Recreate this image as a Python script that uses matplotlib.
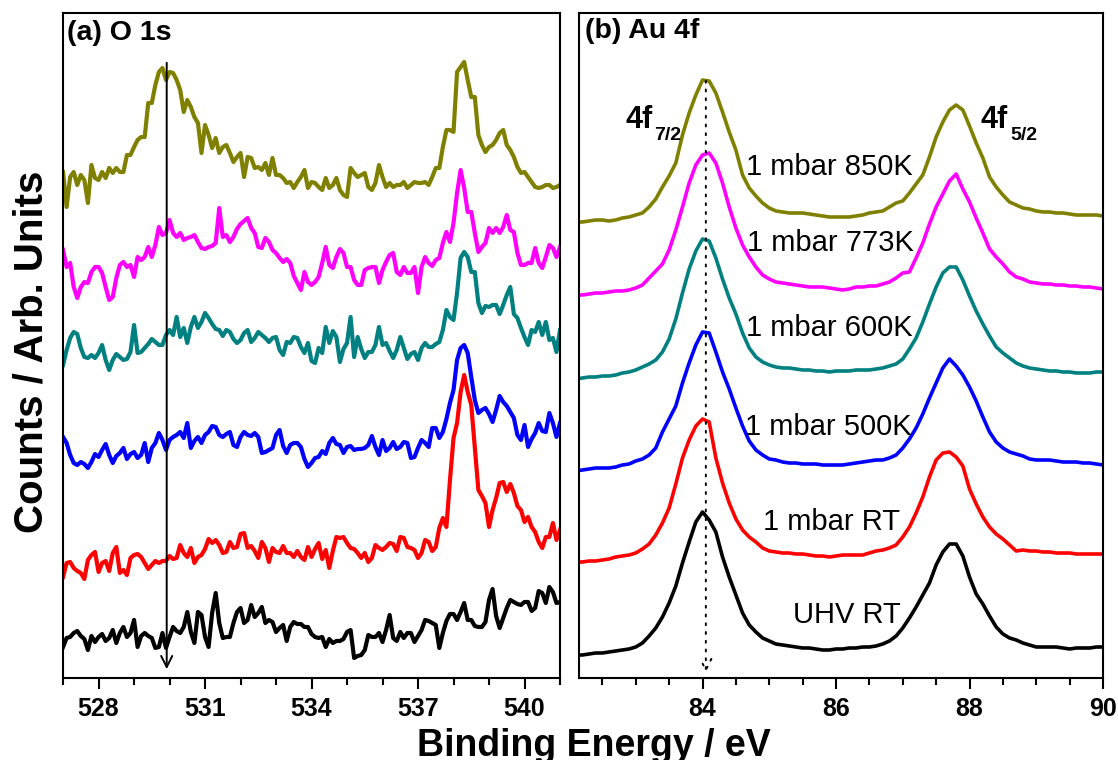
import numpy as np
import matplotlib.pyplot as plt
from matplotlib.ticker import MultipleLocator

plt.rcParams['font.family'] = ['Liberation Sans', 'DejaVu Sans']

# ---- O 1s region, 527-541 eV, 0.1 eV step (counts, arb. units) ----
o1s_energy = np.arange(5270, 5411) / 10.0

o1s_850K = [56, 21, 51, 56, 43, 53, 48, 25, 63, 50, 48, 56, 50, 60, 55, 60, 56, 56, 73, 73,
            81, 88, 91, 91, 125, 125, 143, 156, 160, 148, 156, 155, 148, 138, 116, 128, 121, 111, 105, 75,
            103, 93, 80, 90, 75, 81, 83, 75, 66, 71, 75, 51, 71, 70, 60, 61, 58, 65, 53, 70,
            53, 53, 50, 45, 46, 40, 46, 51, 58, 40, 46, 45, 41, 38, 50, 40, 43, 50, 38, 33,
            31, 60, 55, 51, 53, 55, 41, 38, 45, 63, 51, 41, 45, 41, 43, 43, 46, 40, 43, 46,
            45, 45, 46, 43, 51, 60, 60, 81, 98, 98, 96, 156, 161, 166, 148, 131, 131, 93, 83, 76,
            81, 83, 88, 95, 98, 83, 78, 71, 61, 55, 56, 51, 46, 41, 40, 41, 43, 43, 40, 41, 43]
o1s_773K = [78, 61, 65, 41, 30, 41, 46, 45, 56, 61, 61, 55, 41, 28, 31, 50, 63, 66, 61, 63,
            51, 71, 68, 71, 81, 71, 83, 101, 93, 95, 108, 95, 91, 95, 88, 90, 91, 93, 86, 80,
            79, 81, 82, 85, 120, 91, 93, 86, 91, 99, 104, 107, 110, 100, 95, 81, 80, 90, 86, 78,
            75, 70, 66, 69, 65, 52, 45, 38, 56, 46, 43, 46, 51, 65, 81, 63, 60, 71, 79, 75,
            61, 61, 48, 43, 43, 58, 60, 61, 61, 45, 58, 66, 73, 75, 56, 53, 61, 55, 55, 61,
            35, 61, 71, 65, 62, 68, 70, 85, 96, 86, 105, 135, 158, 140, 116, 116, 95, 76, 81, 85,
            100, 95, 100, 95, 101, 113, 98, 96, 75, 63, 63, 65, 65, 80, 65, 60, 71, 83, 80, 71, 81]
o1s_600K = [63, 78, 90, 96, 94, 80, 71, 70, 73, 70, 75, 83, 68, 58, 68, 74, 71, 68, 69, 76,
            103, 75, 76, 80, 84, 89, 86, 83, 83, 93, 98, 93, 111, 91, 100, 85, 101, 111, 100, 106,
            115, 110, 104, 99, 98, 92, 98, 96, 89, 85, 88, 95, 98, 86, 90, 96, 93, 90, 86, 90,
            91, 78, 73, 86, 85, 91, 90, 81, 75, 85, 67, 65, 80, 75, 101, 85, 97, 91, 66, 79,
            85, 111, 71, 91, 79, 70, 76, 76, 83, 101, 83, 85, 77, 70, 78, 91, 80, 69, 74, 76,
            68, 80, 85, 81, 81, 84, 86, 98, 118, 111, 108, 135, 170, 176, 171, 156, 156, 125, 115, 122,
            121, 123, 123, 114, 123, 133, 141, 114, 110, 100, 91, 83, 98, 96, 106, 93, 106, 88, 90, 76, 98]
o1s_500K = [91, 85, 73, 65, 63, 66, 64, 60, 66, 74, 71, 78, 84, 73, 65, 72, 75, 80, 69, 74,
            76, 70, 73, 85, 66, 80, 85, 95, 88, 78, 88, 91, 93, 96, 90, 105, 80, 87, 91, 85,
            93, 96, 102, 101, 93, 91, 94, 96, 83, 81, 91, 96, 93, 92, 95, 91, 75, 76, 78, 80,
            93, 98, 82, 75, 83, 85, 85, 81, 69, 61, 65, 70, 71, 77, 74, 85, 90, 84, 83, 75,
            81, 82, 78, 79, 79, 80, 83, 92, 81, 73, 88, 77, 80, 86, 79, 81, 86, 85, 70, 71,
            80, 88, 85, 81, 100, 100, 90, 96, 109, 125, 138, 168, 180, 183, 175, 151, 128, 115, 118, 120,
            114, 106, 118, 132, 126, 122, 116, 110, 93, 88, 103, 81, 89, 95, 105, 97, 96, 115, 105, 91, 105]
o1s_RT = [41, 55, 56, 50, 47, 45, 39, 58, 63, 66, 46, 55, 57, 47, 65, 71, 45, 48, 43, 60,
          63, 64, 61, 55, 49, 53, 57, 55, 57, 57, 62, 59, 60, 73, 65, 61, 70, 55, 61, 63,
          69, 79, 75, 78, 73, 65, 66, 76, 70, 71, 84, 85, 70, 72, 67, 60, 76, 70, 56, 70,
          66, 65, 72, 65, 65, 61, 67, 61, 58, 71, 61, 69, 75, 59, 68, 50, 67, 81, 80, 81,
          75, 70, 69, 65, 60, 65, 56, 60, 73, 70, 68, 71, 75, 74, 67, 81, 80, 71, 70, 68,
          60, 65, 78, 76, 67, 71, 90, 100, 91, 138, 180, 195, 226, 243, 226, 213, 170, 128, 122, 115,
          91, 108, 120, 135, 136, 126, 134, 125, 112, 108, 96, 101, 91, 86, 76, 70, 81, 81, 95, 78, 88]
o1s_UHV = [31, 40, 41, 45, 47, 42, 39, 28, 42, 36, 41, 44, 37, 40, 48, 35, 45, 51, 41, 45,
           58, 31, 42, 45, 42, 40, 30, 31, 45, 30, 41, 51, 47, 45, 51, 66, 46, 35, 66, 63,
           41, 31, 65, 85, 55, 40, 41, 41, 55, 66, 70, 55, 58, 73, 61, 65, 71, 55, 58, 56,
           46, 50, 53, 37, 51, 56, 54, 54, 51, 51, 44, 41, 40, 41, 31, 39, 35, 37, 37, 39,
           46, 48, 20, 22, 23, 28, 43, 41, 41, 45, 36, 48, 63, 40, 37, 46, 40, 45, 45, 36,
           42, 48, 58, 57, 55, 53, 30, 45, 57, 64, 64, 58, 66, 75, 58, 58, 52, 51, 51, 56,
           78, 89, 62, 50, 60, 70, 78, 76, 74, 73, 76, 76, 67, 70, 87, 85, 75, 91, 86, 75, 76]

# ---- Au 4f region, 82.1-90 eV, 0.1 eV step ----
au4f_energy = np.arange(821, 901) / 10.0

au4f_850K = [6, 6, 7, 8, 8, 7, 8, 10, 11, 13, 15, 21, 29, 41, 52, 65, 93, 115, 133, 148,
             147, 135, 116, 96, 78, 53, 40, 32, 25, 20, 17, 16, 15, 15, 15, 14, 13, 12, 11, 11,
             11, 11, 12, 13, 15, 16, 17, 21, 25, 27, 35, 44, 53, 71, 91, 106, 118, 123, 118, 102,
             85, 70, 51, 41, 33, 26, 23, 20, 19, 17, 16, 16, 15, 15, 14, 13, 13, 13, 13, 12]
au4f_773K = [33, 33, 34, 35, 35, 36, 37, 37, 38, 40, 43, 50, 57, 64, 78, 98, 121, 145, 163, 173,
             175, 165, 145, 121, 100, 83, 71, 61, 53, 49, 46, 45, 44, 43, 42, 41, 41, 41, 40, 39,
             38, 39, 41, 41, 42, 42, 44, 46, 50, 55, 56, 70, 85, 104, 121, 134, 147, 154, 139, 126,
             110, 95, 79, 71, 64, 56, 51, 49, 46, 45, 44, 44, 43, 43, 42, 42, 41, 41, 40, 39]
au4f_600K = [49, 50, 51, 51, 52, 52, 53, 55, 56, 58, 61, 64, 68, 76, 89, 109, 135, 159, 177, 189,
             187, 170, 149, 130, 114, 95, 80, 71, 66, 63, 61, 60, 60, 59, 58, 58, 57, 57, 56, 57,
             57, 57, 58, 58, 58, 59, 60, 62, 64, 69, 79, 90, 106, 124, 141, 155, 161, 161, 148, 132,
             117, 104, 92, 81, 75, 70, 65, 62, 60, 59, 58, 57, 57, 56, 56, 55, 55, 55, 56, 56]
au4f_500K = [57, 58, 59, 60, 60, 60, 61, 63, 64, 67, 69, 73, 80, 96, 109, 122, 145, 165, 183, 196,
             195, 176, 156, 139, 120, 102, 87, 78, 73, 69, 68, 66, 65, 65, 64, 64, 64, 63, 63, 63,
             63, 64, 65, 66, 67, 68, 68, 70, 73, 80, 89, 100, 114, 130, 145, 160, 169, 162, 153, 141,
             127, 111, 96, 86, 80, 76, 74, 72, 69, 68, 68, 68, 67, 66, 66, 66, 65, 65, 64, 63]
au4f_RT = [56, 56, 57, 57, 58, 59, 61, 62, 63, 65, 69, 74, 83, 95, 110, 134, 160, 178, 192, 199,
           196, 160, 135, 115, 99, 88, 81, 76, 70, 67, 66, 65, 65, 64, 64, 63, 62, 62, 61, 62,
           63, 63, 63, 63, 65, 67, 68, 70, 73, 81, 91, 105, 121, 141, 158, 165, 166, 161, 152, 129,
           114, 101, 91, 84, 79, 73, 67, 68, 67, 67, 66, 66, 65, 65, 65, 64, 64, 64, 64, 64]
au4f_UHV = [23, 23, 24, 25, 25, 26, 27, 28, 29, 31, 35, 42, 50, 61, 75, 92, 115, 136, 156, 166,
            158, 146, 121, 101, 83, 65, 53, 46, 40, 37, 34, 33, 32, 31, 30, 30, 29, 28, 28, 29,
            29, 30, 30, 31, 31, 32, 34, 37, 42, 50, 60, 71, 83, 95, 113, 126, 134, 134, 122, 101,
            84, 74, 62, 51, 44, 40, 38, 35, 33, 31, 31, 31, 31, 30, 29, 30, 30, 30, 31, 31]

conditions = ['1 mbar 850K', '1 mbar 773K', '1 mbar 600K', '1 mbar 500K', '1 mbar RT', 'UHV RT']
colors = ['#808000', '#FF00FF', '#008080', '#0000FF', '#FF0000', '#000000']
offsets = [450, 350, 250, 150, 60, 0]

o1s_spectra = [o1s_850K, o1s_773K, o1s_600K, o1s_500K, o1s_RT, o1s_UHV]
au4f_spectra = [au4f_850K, au4f_773K, au4f_600K, au4f_500K, au4f_RT, au4f_UHV]

fig = plt.figure(figsize=(11.18, 7.6), dpi=100)
ax1 = fig.add_axes([0.0564, 0.1079, 0.4445, 0.875])
ax2 = fig.add_axes([0.5179, 0.1079, 0.4687, 0.875])

for y, off, c in zip(o1s_spectra, offsets, colors):
    ax1.plot(o1s_energy, np.array(y) + off, color=c, lw=3.0)

for y, off, c in zip(au4f_spectra, offsets, colors):
    ax2.plot(au4f_energy, np.array(y) + off, color=c, lw=2.6)

# reference lines with arrows
ax1.annotate('', xy=(529.92, 6), xytext=(529.92, 618),
             arrowprops=dict(arrowstyle='->', color='k', lw=1.4, mutation_scale=20))
ax2.annotate('', xy=(84.05, 3), xytext=(84.05, 600),
             arrowprops=dict(arrowstyle='->', color='k', lw=1.4, linestyle=(0, (1, 3.5)),
                             mutation_scale=20))

# sample condition labels
label_pos = [(84.65, 511), (84.67, 435), (84.65, 350), (84.64, 251), (84.9, 156), (85.36, 63)]
for (lx, ly), txt in zip(label_pos, conditions):
    ax2.text(lx, ly, txt, fontsize=21, ha='left', va='center')

ax2.text(82.84, 558, '4f', fontsize=22, fontweight='bold', ha='left', va='center')
ax2.text(83.28, 542, '7/2', fontsize=14, fontweight='bold', ha='left', va='center')
ax2.text(88.17, 558, '4f', fontsize=22, fontweight='bold', ha='left', va='center')
ax2.text(88.61, 542, '5/2', fontsize=14, fontweight='bold', ha='left', va='center')

ax1.text(0.008, 0.959, '(a) O 1s', transform=ax1.transAxes, fontsize=20.5,
         fontweight='bold', va='baseline')
ax2.text(0.011, 0.962, '(b) Au 4f', transform=ax2.transAxes, fontsize=20.5,
         fontweight='bold', va='baseline')

ax1.set_xlim(527, 541)
ax2.set_xlim(82.15, 90)
ax1.set_xticks([528, 531, 534, 537, 540])
ax2.set_xticks([84, 86, 88, 90])
ax1.xaxis.set_minor_locator(MultipleLocator(1))
ax2.xaxis.set_minor_locator(MultipleLocator(0.5))

for ax in (ax1, ax2):
    ax.set_ylim(0, 665)
    ax.set_yticks([])
    for sp in ax.spines.values():
        sp.set_linewidth(1.5)
    ax.tick_params(axis='x', which='major', direction='out', length=8, width=1.5,
                   labelsize=18, pad=6)
    ax.tick_params(axis='x', which='minor', direction='out', length=4.8, width=1.5)
    plt.setp(ax.get_xticklabels(), fontweight='bold')

fig.text(0.0286, 0.537, 'Counts / Arb. Units', rotation=90, fontsize=29,
         fontweight='bold', ha='center', va='center')
fig.text(0.531, 0.0053, 'Binding Energy / eV', fontsize=27, fontweight='bold',
         ha='center', va='baseline')

fig.savefig('out.png', dpi=100)
